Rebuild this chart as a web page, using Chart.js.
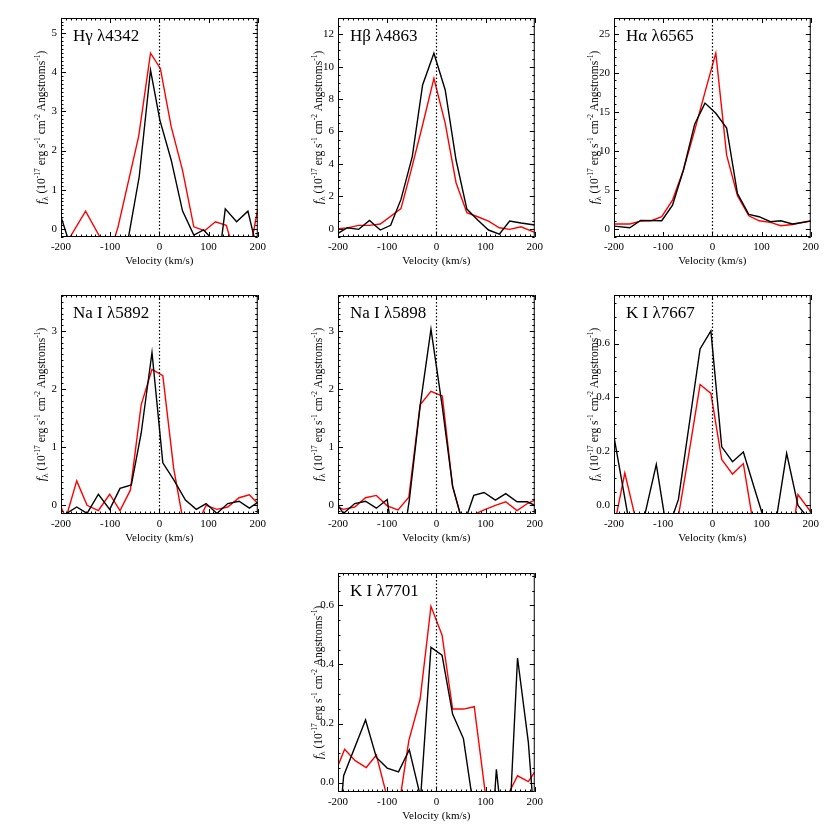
<!DOCTYPE html>
<html>
<head>
<meta charset="utf-8">
<script src="https://cdn.jsdelivr.net/npm/chart.js@4/dist/chart.umd.min.js"></script>
<style>
  body { margin: 0; background: #fff; }
  #page { position: relative; width: 830px; height: 830px; background: #fff; }
  canvas { position: absolute; }
</style>
</head>
<body>
<div id="page"></div>
<script>
// x axis shared by all panels
const velTicks = [-200, -100, 0, 100, 200];

// H gamma 4342
const hgVelBlack = [-200, -177, -64, -41, -18, 1, 24, 47, 70, 90, 124, 134, 157, 180, 200];
const hgFluxBlack = [0.31, -0.6, -0.3, 1.33, 4.06, 2.78, 1.76, 0.46, -0.16, -0.03, -0.5, 0.51, 0.18, 0.45, -0.6];
const hgVelRed = [-200, -150, -117, -100, -84, -42, -18, 2, 24, 47, 70, 92, 114, 136, 150, 185, 200];
const hgFluxRed = [-0.6, 0.45, -0.3, -0.6, 0.05, 2.37, 4.49, 4.1, 2.61, 1.5, 0.05, -0.05, 0.18, 0.09, -0.5, -0.5, 0.5];
const hgTicks = [0, 1, 2, 3, 4, 5];

// H beta 4863
const hbVelBlack = [-200, -181, -158, -136, -114, -93, -72, -49, -28, -5, 18, 40, 62, 84, 106, 128, 149, 172, 200];
const hbFluxBlack = [-0.29, 0.06, -0.04, 0.51, -0.08, 0.21, 1.81, 4.45, 8.87, 10.83, 8.56, 4.24, 1.21, 0.54, -0.08, -0.33, 0.47, 0.35, 0.23];
const hbVelRed = [-200, -181, -158, -136, -114, -72, -52, -28, -5, 18, 40, 62, 84, 106, 128, 149, 172, 200];
const hbFluxRed = [0.0, 0.05, 0.21, 0.21, 0.29, 1.24, 3.52, 6.4, 9.28, 6.5, 2.84, 0.99, 0.74, 0.47, 0.06, -0.04, 0.12, -0.23];
const hbTicks = [0, 2, 4, 6, 8, 10, 12];

// H alpha 6565
const haVelBlack = [-200, -168, -146, -103, -81, -59, -36, -15, 7, 29, 51, 74, 95, 118, 139, 163, 200];
const haFluxBlack = [0.34, 0.13, 1.07, 1.02, 3.03, 7.5, 13.4, 16.1, 14.8, 12.9, 4.5, 1.83, 1.54, 0.9, 1.02, 0.6, 0.98];
const haVelRed = [-200, -168, -146, -124, -103, -81, -59, -36, -15, 7, 29, 51, 74, 95, 118, 139, 163, 200];
const haFluxRed = [0.6, 0.6, 0.98, 1.02, 1.54, 3.67, 7.5, 12.6, 17.5, 22.5, 9.43, 4.22, 1.66, 1.02, 0.81, 0.38, 0.55, 1.02];
const haTicks = [0, 5, 10, 15, 20, 25];

// Na I 5892
const na1VelBlack = [-200, -168, -147, -124, -101, -80, -57, -37, -15, 7, 29, 53, 75, 95, 117, 139, 162, 183, 200];
const na1FluxBlack = [-0.2, -0.03, -0.14, 0.19, -0.07, 0.29, 0.35, 1.24, 2.63, 0.73, 0.44, 0.09, -0.07, 0.03, -0.14, 0.03, 0.07, -0.05, 0.05];
const na1VelRed = [-200, -190, -168, -147, -124, -101, -80, -59, -37, -15, 7, 29, 51, 73, 95, 117, 139, 162, 183, 200];
const na1FluxRed = [-0.03, -0.22, 0.42, 0.0, -0.09, 0.19, -0.09, 0.26, 1.73, 2.34, 2.23, 0.64, -0.4, -0.4, 0.0, -0.07, -0.03, 0.13, 0.18, 0.03];
const na1Ticks = [0, 1, 2, 3];

// Na I 5898
const na2VelBlack = [-200, -189, -166, -144, -122, -100, -78, -55, -33, -11, 12, 33, 55, 76, 97, 120, 141, 164, 185, 200];
const na2FluxBlack = [0.0, -0.14, 0.03, 0.07, -0.05, 0.1, -1.2, 0.09, 1.71, 3.03, 1.7, 0.33, -0.35, 0.17, 0.22, 0.09, 0.2, 0.06, 0.06, 0.0];
const na2VelRed = [-200, -189, -166, -144, -122, -100, -78, -56, -33, -11, 12, 33, 55, 76, 97, 120, 141, 164, 185, 200];
const na2FluxRed = [-0.03, -0.07, -0.03, 0.13, 0.17, -0.01, -0.08, 0.14, 1.73, 1.96, 1.88, 0.32, -0.35, -0.16, -0.08, 0.0, 0.06, -0.09, 0.03, 0.09];
const na2Ticks = [0, 1, 2, 3];

// K I 7667
const k1VelBlack = [-200, -156, -138, -114, -92, -69, -25, -3, 19, 41, 63, 86, 108, 130, 151, 174, 196];
const k1FluxBlack = [0.254, -0.2, -0.04, 0.152, -0.1, 0.022, 0.58, 0.647, 0.217, 0.162, 0.198, 0.06, -0.07, -0.05, 0.193, 0.0, -0.05];
const k1VelRed = [-200, -178, -156, -69, -47, -25, -3, 19, 41, 63, 86, 152, 174, 200];
const k1FluxRed = [-0.08, 0.12, -0.05, -0.04, 0.2, 0.448, 0.415, 0.17, 0.116, 0.155, -0.1, -0.25, 0.04, -0.024];
const k1Ticks = [0.0, 0.2, 0.4, 0.6];

// K I 7701
const k2VelBlack = [-200, -188.5, -144, -122, -100, -77, -55, -32, -11, 11.5, 33, 55, 77, 100, 122, 144, 165, 187, 200];
const k2FluxBlack = [-0.2, 0.023, 0.212, 0.085, 0.049, 0.036, 0.111, -0.05, 0.458, 0.432, 0.232, 0.149, -0.1, -0.5, 0.045, -0.3, 0.422, 0.136, -0.15];
const k2VelRed = [-200, -186.5, -165, -142.6, -122, -100, -78, -56, -33, -11, 11.5, 33, 55, 77, 99, 121, 143, 165, 187, 200];
const k2FluxRed = [0.057, 0.113, 0.074, 0.051, 0.093, -0.05, -0.1, 0.142, 0.283, 0.597, 0.5, 0.249, 0.249, 0.257, -0.03, -0.2, -0.05, 0.023, 0.003, 0.036];
const k2Ticks = [0.0, 0.2, 0.4, 0.6];

const SERIF = "'Liberation Serif', 'DejaVu Serif', serif";

const panels = [
  { title: "Hγ λ4342", left: 61, top: 18, ymin: -0.21, ymax: 5.39, ticks: hgTicks, minor: 10, dec: 0,
    vb: hgVelBlack, fb: hgFluxBlack, vr: hgVelRed, fr: hgFluxRed },
  { title: "Hβ λ4863", left: 338, top: 18, ymin: -0.51, ymax: 13.0, ticks: hbTicks, minor: 4, dec: 0,
    vb: hbVelBlack, fb: hbFluxBlack, vr: hbVelRed, fr: hbFluxRed },
  { title: "Hα λ6565", left: 614, top: 18, ymin: -1.06, ymax: 27, ticks: haTicks, minor: 5, dec: 0,
    vb: haVelBlack, fb: haFluxBlack, vr: haVelRed, fr: haFluxRed },
  { title: "Na I λ5892", left: 61, top: 295, ymin: -0.15, ymax: 3.62, ticks: na1Ticks, minor: 10, dec: 0,
    vb: na1VelBlack, fb: na1FluxBlack, vr: na1VelRed, fr: na1FluxRed },
  { title: "Na I λ5898", left: 338, top: 295, ymin: -0.15, ymax: 3.62, ticks: na2Ticks, minor: 10, dec: 0,
    vb: na2VelBlack, fb: na2FluxBlack, vr: na2VelRed, fr: na2FluxRed },
  { title: "K I λ7667", left: 614, top: 295, ymin: -0.032, ymax: 0.78, ticks: k1Ticks, minor: 4, dec: 1,
    vb: k1VelBlack, fb: k1FluxBlack, vr: k1VelRed, fr: k1FluxRed },
  { title: "K I λ7701", left: 338, top: 573, ymin: -0.032, ymax: 0.71, ticks: k2Ticks, minor: 4, dec: 1,
    vb: k2VelBlack, fb: k2FluxBlack, vr: k2VelRed, fr: k2FluxRed },
];

const CW = 270, CH = 270;
const AXIS_W = 61, PAD_TOP = 18, PLOT_W = 197, PLOT_H = 219, X_AXIS_H = 30;

function toPoints(vel, flux) {
  return vel.map((v, i) => ({ x: v, y: flux[i] }));
}

// draws "f_λ (10^-17 erg s^-1 cm^-2 Angstroms^-1)" as rich text along the current x direction
function drawYLabel(ctx) {
  const parts = [
    { t: "f", font: "italic 13px " + SERIF, dy: 0 },
    { t: "λ", font: "9px " + SERIF, dy: 3 },
    { t: " (10", font: "11.5px " + SERIF, dy: 0 },
    { t: "-17", font: "7.5px " + SERIF, dy: -5 },
    { t: " erg s", font: "11.5px " + SERIF, dy: 0 },
    { t: "-1", font: "7.5px " + SERIF, dy: -5 },
    { t: " cm", font: "11.5px " + SERIF, dy: 0 },
    { t: "-2", font: "7.5px " + SERIF, dy: -5 },
    { t: " Angstroms", font: "11.5px " + SERIF, dy: 0 },
    { t: "-1", font: "7.5px " + SERIF, dy: -5 },
    { t: ")", font: "11.5px " + SERIF, dy: 0 },
  ];
  let total = 0;
  parts.forEach(p => { ctx.font = p.font; p.w = ctx.measureText(p.t).width; total += p.w; });
  let x = -total / 2;
  ctx.textBaseline = "alphabetic";
  ctx.textAlign = "left";
  parts.forEach(p => { ctx.font = p.font; ctx.fillText(p.t, x, p.dy); x += p.w; });
}

const framePlugin = {
  id: "frame",
  afterDatasetsDraw(chart) {
    const { ctx, chartArea: a, scales } = chart;
    const p = chart.options.plugins.frame;
    const xs = scales.x, ys = scales.y;
    ctx.save();
    ctx.strokeStyle = "#000";
    ctx.fillStyle = "#000";

    // dotted line at zero velocity
    ctx.lineWidth = 1.2;
    ctx.setLineDash([1.5, 2]);
    const x0 = Math.round(xs.getPixelForValue(0)) + 0.5;
    ctx.beginPath();
    ctx.moveTo(x0, a.top);
    ctx.lineTo(x0, a.bottom);
    ctx.stroke();
    ctx.setLineDash([]);

    // box
    ctx.lineWidth = 1;
    ctx.strokeRect(a.left + 0.5, a.top + 0.5, a.right - a.left - 1, a.bottom - a.top - 1);

    // inward ticks on all four sides
    ctx.beginPath();
    const xStep = 100 / 10;
    for (let v = -200; v <= 200 + 1e-6; v += xStep) {
      const major = Math.abs(v % 100) < 1e-6;
      const len = major ? 5 : 2.5;
      const px = Math.round(xs.getPixelForValue(v)) + 0.5;
      ctx.moveTo(px, a.bottom); ctx.lineTo(px, a.bottom - len);
      ctx.moveTo(px, a.top); ctx.lineTo(px, a.top + len);
    }
    const yMajor = p.ticks[1] - p.ticks[0];
    const yStep = yMajor / p.minor;
    const start = Math.ceil(ys.min / yStep - 1e-6);
    for (let k = start; k * yStep <= ys.max + 1e-9; k++) {
      const v = k * yStep;
      const major = k % p.minor === 0;
      const len = major ? 5 : 2.5;
      const py = Math.round(ys.getPixelForValue(v)) + 0.5;
      ctx.moveTo(a.left, py); ctx.lineTo(a.left + len, py);
      ctx.moveTo(a.right, py); ctx.lineTo(a.right - len, py);
    }
    ctx.stroke();

    // panel title
    ctx.font = "17px " + SERIF;
    ctx.textAlign = "left";
    ctx.textBaseline = "alphabetic";
    ctx.fillText(p.title, a.left + 12, a.top + 23);

    // x axis title
    ctx.font = "11px " + SERIF;
    ctx.textAlign = "center";
    ctx.fillText("Velocity (km/s)", (a.left + a.right) / 2, a.bottom + 27);

    // y axis title, rotated
    ctx.save();
    ctx.translate(a.left - 16, (a.top + a.bottom) / 2);
    ctx.rotate(-Math.PI / 2);
    drawYLabel(ctx);
    ctx.restore();

    ctx.restore();
  },
};

const page = document.getElementById("page");

panels.forEach(p => {
  const canvas = document.createElement("canvas");
  canvas.width = CW;
  canvas.height = CH;
  canvas.style.left = (p.left - AXIS_W) + "px";
  canvas.style.top = (p.top - PAD_TOP) + "px";
  page.appendChild(canvas);

  new Chart(canvas, {
    type: "line",
    data: {
      datasets: [
        {
          data: toPoints(p.vb, p.fb),
          borderColor: "#000000",
          borderWidth: 1.4,
          pointRadius: 0,
          tension: 0,
        },
        {
          data: toPoints(p.vr, p.fr),
          borderColor: "#ff0000",
          borderWidth: 1.4,
          pointRadius: 0,
          tension: 0,
        },
      ],
    },
    options: {
      responsive: false,
      animation: false,
      devicePixelRatio: 1,
      layout: {
        padding: { left: 0, top: PAD_TOP, right: CW - AXIS_W - PLOT_W, bottom: CH - PAD_TOP - PLOT_H - X_AXIS_H },
      },
      plugins: {
        legend: { display: false },
        tooltip: { enabled: false },
        frame: { title: p.title, ticks: p.ticks, minor: p.minor },
      },
      scales: {
        x: {
          type: "linear",
          min: -200,
          max: 200,
          grid: { display: false, drawTicks: false },
          border: { display: false },
          afterFit: s => { s.height = X_AXIS_H; },
          afterBuildTicks: s => { s.ticks = velTicks.map(v => ({ value: v })); },
          ticks: {
            color: "#000",
            font: { family: SERIF, size: 11 },
            padding: 4,
            maxRotation: 0,
            autoSkip: false,
            callback: v => String(v),
          },
        },
        y: {
          type: "linear",
          min: p.ymin,
          max: p.ymax,
          grid: { display: false, drawTicks: false },
          border: { display: false },
          afterFit: s => { s.width = AXIS_W; },
          afterBuildTicks: s => { s.ticks = p.ticks.map(v => ({ value: v })); },
          ticks: {
            color: "#000",
            font: { family: SERIF, size: 11 },
            padding: 4,
            autoSkip: false,
            callback: v => Number(v).toFixed(p.dec),
          },
        },
      },
    },
    plugins: [framePlugin],
  });
});
</script>
</body>
</html>
